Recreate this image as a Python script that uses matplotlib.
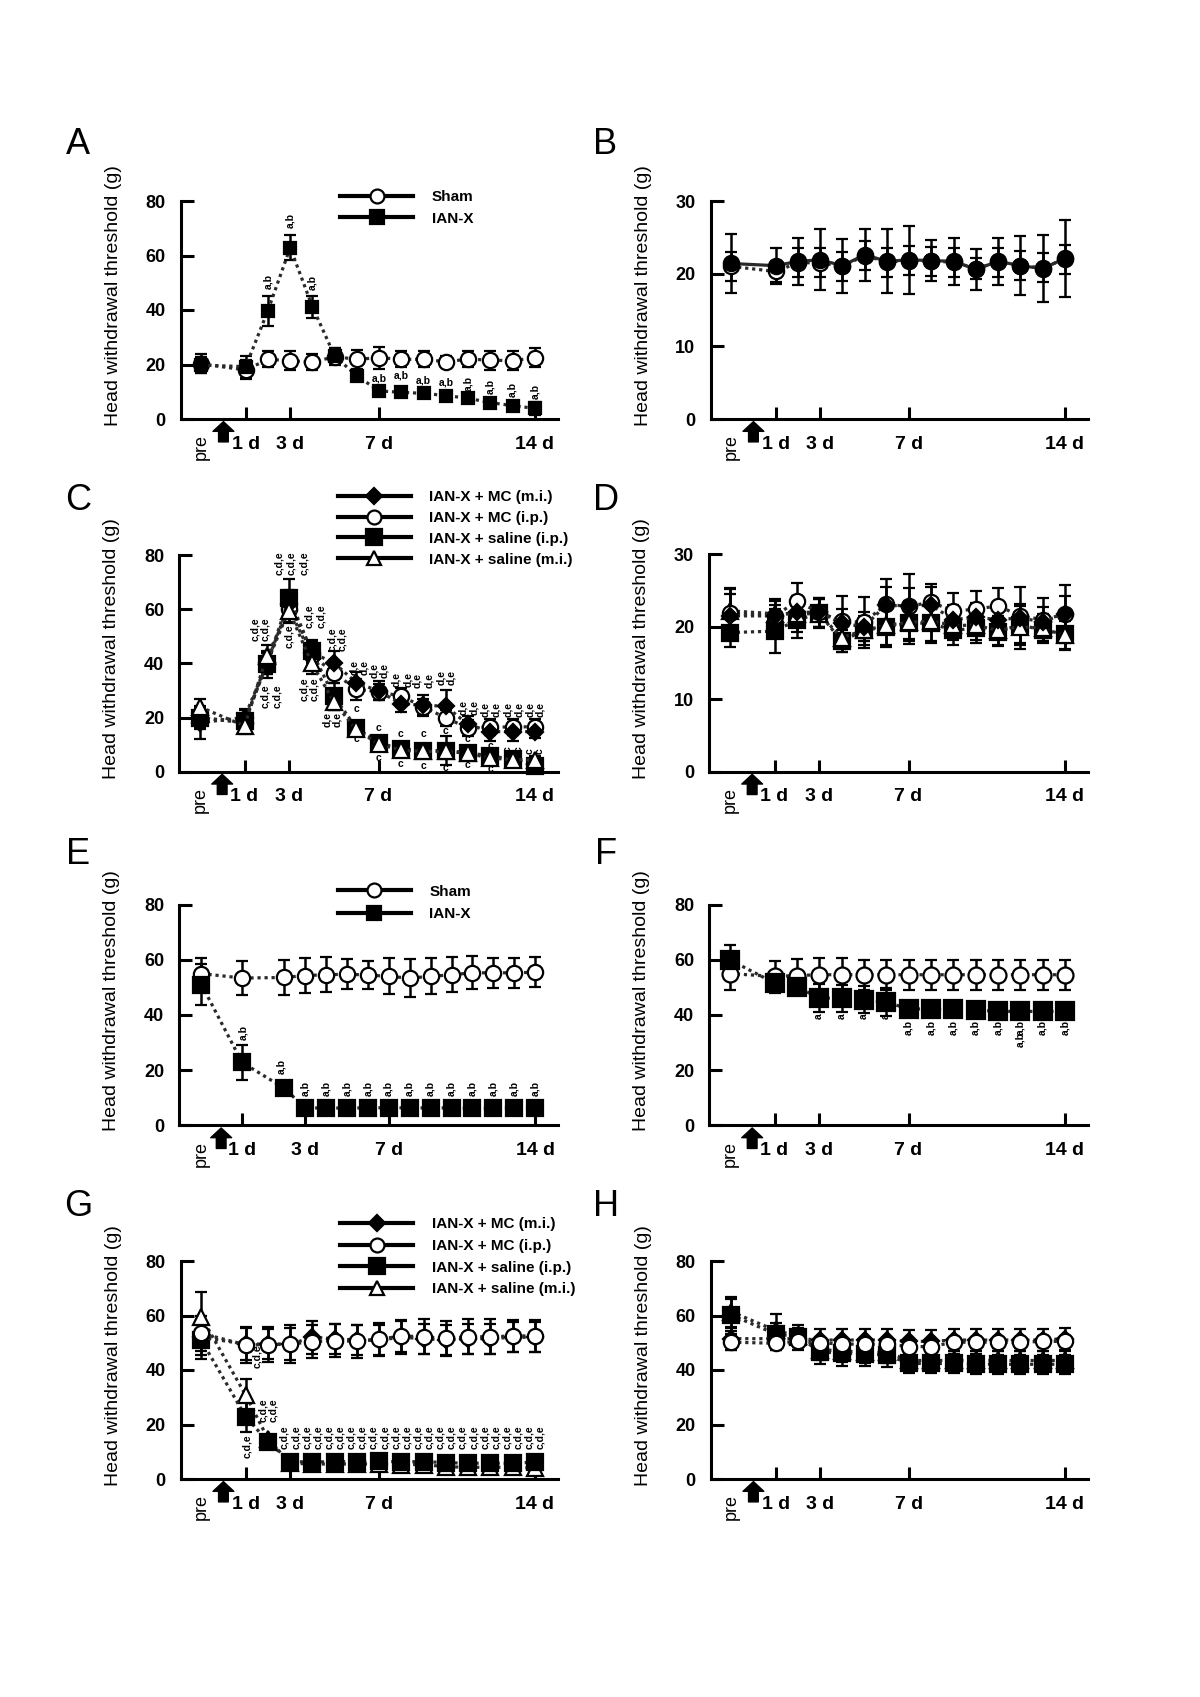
import numpy as np
import matplotlib.pyplot as plt
from matplotlib.lines import Line2D
from matplotlib.transforms import blended_transform_factory

plt.rcParams['font.family'] = ['Liberation Sans', 'DejaVu Sans']

# x positions (days); "pre" sits left of the surgery arrow
days = [-1, 1, 2, 3, 4, 5, 6, 7, 8, 9, 10, 11, 12, 13, 14]
days_e = [-1.94, 0, 2, 3, 4, 5, 6, 7, 8, 9, 10, 11, 12, 13, 14]
day_ticks = [1, 3, 7, 14]
day_ticks_e = [0, 3, 7, 14]
day_labels = ['1 d', '3 d', '7 d', '14 d']

# ---- A ----
sham_a = [20.2, 18.0, 21.9, 21.4, 20.8, 22.9, 21.9, 22.5, 21.9, 21.9, 21.0, 22.0, 21.6, 21.4, 22.5]
sham_a_err = [3.5, 3.5, 3.0, 3.5, 3.0, 3.0, 3.5, 4.0, 3.0, 3.0, 2.0, 3.0, 3.5, 3.5, 3.5]
ianx_a = [19.8, 19.2, 39.8, 62.9, 41.2, 23.1, 15.8, 10.3, 9.8, 9.4, 8.6, 7.6, 6.0, 4.9, 3.9]
ianx_a_err = [3.0, 4.0, 5.5, 4.7, 4.0, 3.0, 1.5, 1.5, 1.2, 1.2, 1.2, 1.2, 1.5, 1.5, 2.5]

# ---- B ----
sham_b = [21.0, 20.3, 21.5, 21.5, 21.0, 22.5, 21.6, 21.8, 21.7, 21.6, 20.7, 21.6, 21.1, 20.8, 22.0]
sham_b_err = [2.0, 1.5, 2.0, 2.0, 2.0, 2.0, 2.0, 2.0, 2.0, 2.0, 1.5, 2.0, 2.0, 2.0, 2.0]
ianx_b = [21.4, 21.1, 21.7, 21.9, 21.1, 22.6, 21.7, 21.9, 21.8, 21.7, 20.6, 21.7, 21.1, 20.7, 22.1]
ianx_b_err = [4.0, 2.5, 3.2, 4.2, 3.7, 3.6, 4.4, 4.7, 2.8, 3.2, 2.8, 3.2, 4.1, 4.6, 5.3]

# ---- C ----
mc_mi_c = [18.1, 20.0, 40.0, 62.0, 44.0, 40.2, 32.9, 29.8, 25.1, 24.5, 24.2, 17.5, 14.8, 14.8, 14.8]
mc_mi_c_err = [6.0, 3.0, 4.0, 5.0, 4.0, 4.5, 4.0, 3.5, 3.0, 4.0, 6.0, 3.0, 3.5, 3.5, 2.5]
mc_ip_c = [20.0, 18.0, 40.0, 60.0, 43.0, 36.6, 30.4, 29.5, 27.9, 24.0, 19.9, 16.2, 16.5, 16.5, 16.6]
mc_ip_c_err = [4.0, 3.0, 4.0, 5.0, 4.0, 4.0, 4.0, 3.0, 3.0, 3.0, 3.0, 3.0, 3.0, 3.0, 3.0]
sal_ip_c = [19.7, 18.7, 39.6, 64.2, 44.6, 27.9, 16.2, 10.7, 8.4, 7.8, 7.8, 7.0, 5.8, 4.6, 2.1]
sal_ip_c_err = [4.0, 4.0, 5.0, 7.0, 4.0, 5.0, 2.0, 2.0, 2.0, 2.0, 5.5, 2.0, 2.0, 1.5, 1.5]
sal_mi_c = [23.9, 16.9, 42.7, 59.3, 40.2, 25.8, 15.6, 10.2, 8.0, 7.5, 7.5, 6.8, 5.0, 4.5, 4.3]
sal_mi_c_err = [3.0, 3.0, 4.0, 4.0, 4.0, 3.0, 2.0, 2.0, 1.5, 1.5, 2.0, 1.5, 1.5, 1.5, 1.5]

# ---- D ----
mc_mi_d = [21.5, 21.5, 22.0, 22.0, 20.5, 20.0, 23.0, 22.8, 23.0, 21.0, 21.3, 21.0, 21.2, 20.7, 21.8]
mc_mi_d_err = [3.0, 1.5, 2.0, 2.0, 2.0, 2.0, 2.5, 2.5, 2.5, 2.0, 2.0, 2.0, 2.0, 2.0, 2.5]
mc_ip_d = [21.9, 21.5, 23.5, 22.0, 20.8, 20.6, 23.1, 22.8, 23.4, 22.2, 22.4, 22.9, 21.5, 21.0, 21.7]
mc_ip_d_err = [3.5, 2.0, 2.5, 2.0, 3.5, 3.5, 3.5, 4.5, 2.5, 2.5, 2.5, 2.5, 4.0, 3.0, 4.0]
sal_ip_d = [19.2, 19.4, 20.9, 21.9, 18.0, 19.5, 20.0, 20.5, 20.5, 19.5, 19.8, 19.3, 20.3, 19.5, 19.0]
sal_ip_d_err = [2.0, 3.0, 2.5, 2.0, 1.5, 1.5, 2.5, 2.5, 2.5, 2.0, 2.0, 2.0, 2.5, 1.5, 2.0]
sal_mi_d = [22.2, 21.8, 21.8, 21.8, 18.5, 19.5, 20.2, 20.6, 20.8, 20.2, 20.2, 19.5, 20.0, 19.8, 18.8]
sal_mi_d_err = [3.0, 2.0, 2.5, 2.0, 2.0, 2.0, 3.0, 3.0, 3.0, 2.0, 2.0, 2.0, 3.0, 2.0, 2.0]

# ---- E ----
sham_e = [55.0, 53.4, 53.6, 54.3, 54.6, 54.8, 54.5, 54.0, 53.4, 54.0, 54.6, 55.3, 55.3, 55.3, 55.5]
sham_e_err = [5.5, 6.3, 6.3, 6.3, 6.3, 5.5, 5.0, 6.5, 7.0, 6.5, 6.3, 6.0, 5.5, 5.5, 5.5]
ianx_e = [51.0, 22.8, 13.5, 6.4, 6.2, 6.3, 6.3, 6.4, 6.3, 6.3, 6.3, 6.1, 6.1, 6.2, 6.3]
ianx_e_err = [7.5, 6.5, 1.0, 1.0, 0.8, 0.8, 0.8, 0.8, 0.8, 0.8, 0.8, 0.8, 0.8, 0.8, 0.8]

# ---- F ----
sham_f = [55.0, 54.0, 54.3, 54.6, 54.6, 54.6, 54.6, 54.6, 54.6, 54.6, 54.6, 54.6, 54.6, 54.6, 54.6]
sham_f_err = [6.0, 5.5, 6.0, 6.0, 6.0, 5.5, 5.5, 5.5, 5.5, 5.5, 5.5, 5.5, 5.5, 5.5, 5.5]
ianx_f = [60.0, 51.6, 50.2, 46.2, 46.0, 45.6, 44.7, 42.2, 42.2, 42.0, 41.9, 41.3, 41.3, 41.3, 41.3]
ianx_f_err = [5.5, 3.5, 2.5, 5.0, 5.0, 5.0, 5.0, 2.5, 2.5, 2.5, 2.5, 2.5, 2.5, 2.5, 2.5]

# ---- G ----
mc_mi_g = [52.0, 49.5, 49.5, 49.5, 52.0, 51.5, 51.0, 51.0, 52.0, 51.5, 51.0, 51.5, 51.5, 52.0, 52.0]
mc_mi_g_err = [6.5, 6.0, 5.5, 6.0, 6.0, 5.5, 5.5, 5.5, 6.0, 5.5, 5.5, 5.5, 5.5, 5.5, 5.5]
mc_ip_g = [53.5, 49.2, 49.3, 49.5, 50.4, 50.8, 50.5, 51.3, 52.5, 52.2, 51.6, 52.2, 52.2, 52.5, 52.5]
mc_ip_g_err = [6.5, 6.6, 6.5, 7.0, 6.0, 6.0, 6.0, 6.0, 6.0, 6.5, 6.5, 6.5, 6.5, 6.0, 6.0]
sal_ip_g = [51.0, 22.9, 13.7, 6.4, 6.2, 6.4, 6.3, 6.5, 6.3, 6.4, 6.0, 5.8, 5.8, 5.8, 6.2]
sal_ip_g_err = [7.0, 5.5, 1.5, 1.0, 1.0, 1.0, 1.0, 1.0, 1.0, 1.0, 1.0, 1.0, 1.0, 1.0, 1.0]
sal_mi_g = [59.6, 30.8, 14.8, 5.8, 5.5, 5.5, 5.5, 5.5, 5.3, 5.3, 4.5, 4.3, 4.3, 4.3, 4.0]
sal_mi_g_err = [9.0, 6.0, 1.5, 1.0, 1.0, 1.0, 1.0, 1.0, 1.0, 1.0, 1.0, 1.0, 1.0, 1.0, 1.0]

# ---- H ----
mc_mi_h = [51.5, 51.5, 51.5, 51.0, 51.0, 51.0, 51.0, 50.5, 50.5, 51.0, 51.0, 51.0, 51.0, 51.0, 51.5]
mc_mi_h_err = [4.0, 4.0, 4.0, 4.0, 4.0, 4.0, 4.0, 4.0, 4.0, 4.0, 4.0, 4.0, 4.0, 4.0, 4.0]
mc_ip_h = [50.2, 49.8, 50.5, 50.0, 49.5, 49.5, 49.5, 48.6, 48.6, 50.2, 50.2, 50.2, 50.2, 50.5, 50.5]
mc_ip_h_err = [3.0, 2.5, 2.0, 2.0, 2.0, 2.0, 2.0, 2.0, 2.0, 2.0, 2.0, 2.0, 2.0, 2.0, 2.0]
sal_ip_h = [60.2, 53.2, 52.2, 46.7, 46.1, 45.9, 45.5, 42.4, 42.4, 42.4, 42.2, 42.1, 42.1, 42.1, 42.1]
sal_ip_h_err = [6.0, 4.0, 3.0, 4.5, 4.5, 4.5, 4.5, 3.5, 3.5, 3.5, 3.5, 3.5, 3.5, 3.5, 3.5]
sal_mi_h = [61.4, 54.5, 52.5, 47.5, 47.0, 46.5, 46.5, 43.5, 43.5, 43.5, 43.5, 43.5, 43.5, 43.5, 43.5]
sal_mi_h_err = [5.5, 6.0, 4.0, 4.0, 4.0, 4.0, 4.0, 3.5, 3.5, 3.5, 3.5, 3.5, 3.5, 3.5, 3.5]

# significance letters: (day, y, text, rotation)
notes_a = [(2, 50.4, 'a,b', 90), (3, 73, 'a,b', 90), (4, 50.2, 'a,b', 90),
           (7, 14.9, 'a,b', 0), (8, 15.8, 'a,b', 0), (9, 14.1, 'a,b', 0), (10, 13.5, 'a,b', 0),
           (11, 13.1, 'a,b', 90), (12, 11.9, 'a,b', 90), (13, 10.9, 'a,b', 90), (14, 10.0, 'a,b', 90)]
notes_c = [(1.49, 52.6, 'c,d,e', 90), (1.94, 52.6, 'c,d,e', 90),
           (1.94, 28.0, 'c,d,e', 90), (2.47, 28.0, 'c,d,e', 90),
           (2.54, 77, 'c,d,e', 90), (3.1, 77, 'c,d,e', 90), (3.66, 77, 'c,d,e', 90),
           (3.0, 50, 'c,d,e', 90),
           (3.89, 57.5, 'c,d,e', 90), (4.41, 57.5, 'c,d,e', 90),
           (3.66, 30.4, 'c,d,e', 90), (4.11, 30.4, 'c,d,e', 90),
           (4.91, 49, 'c,d,e', 90), (5.39, 49, 'c,d,e', 90),
           (4.71, 19.3, 'd,e', 90), (5.16, 19.3, 'd,e', 90),
           (5.91, 38.4, 'd,e', 90), (6.36, 38.4, 'd,e', 90),
           (6.81, 37.2, 'd,e', 90), (7.26, 37.2, 'd,e', 90),
           (7.78, 34.0, 'd,e', 90), (8.31, 34.0, 'd,e', 90),
           (8.75, 33.5, 'd,e', 90), (9.28, 33.5, 'd,e', 90),
           (9.8, 34.7, 'd,e', 90), (10.25, 34.7, 'd,e', 90),
           (10.8, 23.6, 'd,e', 90), (11.3, 23.6, 'd,e', 90),
           (11.79, 23.0, 'd,e', 90), (12.27, 23.0, 'd,e', 90),
           (12.8, 23.0, 'd,e', 90), (13.29, 23.0, 'd,e', 90),
           (13.77, 23.0, 'd,e', 90), (14.22, 23.0, 'd,e', 90),
           (6, 23, 'c', 0), (6, 12, 'c', 0), (7, 16.2, 'c', 0), (7, 5.2, 'c', 0),
           (8, 13.8, 'c', 0), (8, 3.0, 'c', 0), (9, 13.8, 'c', 0), (9, 2.0, 'c', 0),
           (10, 15.0, 'c', 0), (10, 1.5, 'c', 0), (11, 12.0, 'c', 0), (11, 2.3, 'c', 0),
           (12, 9.5, 'c', 0), (12, 0.9, 'c', 0), (12.8, 8.2, 'c', 90), (13.27, 8.2, 'c', 90),
           (13.77, 7.6, 'c', 90), (14.22, 7.6, 'c', 90)]
notes_e = [(0.05, 33.5, 'a,b', 90), (1.88, 21.4, 'a,b', 90)] + \
          [(d, 13.5, 'a,b', 90) for d in days_e[3:]]
notes_f = [(d, 39.5, 'a', 90) for d in days[3:7]] + \
          [(d, 35.3, 'a,b', 90) for d in days[7:]] + [(12, 31.0, 'a,b', 90)]
notes_g = [(1.05, 11.9, 'c,d,e', 90), (1.5, 44.9, 'c,d,e', 90),
           (1.8, 25.3, 'c,d,e', 90), (2.24, 25.3, 'c,d,e', 90)]
for d in days[3:]:
    notes_g += [(d - 0.25, 15.5, 'c,d,e', 90), (d + 0.25, 15.5, 'c,d,e', 90)]

styles = {
    'sham': dict(marker='o', mfc='white'),
    'ianx': dict(marker='s', mfc='black'),
    'ianx_b': dict(marker='o', mfc='black'),
    'mc_mi': dict(marker='D', mfc='black'),
    'mc_ip': dict(marker='o', mfc='white'),
    'sal_ip': dict(marker='s', mfc='black'),
    'sal_mi': dict(marker='^', mfc='white'),
}

W, H = 1200, 1697
fig = plt.figure(figsize=(12, 16.97), dpi=100)


def box(left, top, width, height):
    return [left / W, 1 - (top + height) / H, width / W, height / H]


def panel(rect, x, series, ymax, ystep, ticks, xlim, letter, notes=(), arrow_x=0):
    ax = fig.add_axes(box(*rect))
    for y, err, key, ms, ls in series:
        st = styles[key]
        cont = ax.errorbar(x, y, yerr=err, marker=st['marker'], ms=ms, mfc=st['mfc'],
                           mec='black', mew=1.6, color='#2a2a2a', ls=ls, lw=2.3,
                           ecolor='black', elinewidth=1.8, capsize=4.5, capthick=1.8)
        for art in cont.get_children():
            art.set_clip_on(False)
    ax.set_xlim(*xlim)
    ax.set_ylim(0, ymax)
    for s in ('top', 'right'):
        ax.spines[s].set_visible(False)
    for s in ('left', 'bottom'):
        ax.spines[s].set_linewidth(2.2)
    ax.set_yticks(np.arange(0, ymax + 1, ystep))
    ax.set_yticklabels([str(v) for v in np.arange(0, ymax + 1, ystep)],
                       fontweight='bold', fontsize=13)
    ax.set_xticks(ticks)
    ax.set_xticklabels(day_labels, fontweight='bold', fontsize=14)
    ax.tick_params(axis='both', direction='in', length=9, width=2.2)
    ax.tick_params(axis='y', pad=11)
    ax.tick_params(axis='x', pad=12)
    ax.set_ylabel('Head withdrawal threshold (g)', fontsize=14)
    ax.yaxis.set_label_coords(-0.156, 0.567)
    trans = blended_transform_factory(ax.transData, ax.transAxes)
    ax.text(x[0], -0.07, 'pre', rotation=90, ha='center', va='top',
            fontsize=13, transform=trans)
    ax.annotate('', xy=(arrow_x, -0.012), xycoords=trans,
                xytext=(arrow_x, -0.105), textcoords=trans,
                arrowprops=dict(facecolor='black', edgecolor='black', width=7,
                                headwidth=15, headlength=7, shrink=0),
                annotation_clip=False)
    for nx, ny, txt, rot in notes:
        ax.text(nx, ny, txt, rotation=rot, ha='center', va='center',
                fontsize=7.5, fontweight='bold', clip_on=False)
    fig.text(letter[0] / W, 1 - letter[1] / H, letter[2], fontsize=26,
             ha='center', va='center')
    return ax


def legend(ax, keys, labels, sizes, anchor, spacing):
    handles = [Line2D([], [], color='black', lw=3, marker=styles[k]['marker'], ms=m,
                      mfc=styles[k]['mfc'], mec='black', mew=1.6)
               for k, m in zip(keys, sizes)]
    ax.legend(handles, labels, loc='upper left', bbox_to_anchor=anchor, frameon=False,
              handlelength=4.8, handletextpad=1.2, labelspacing=spacing,
              borderpad=0, borderaxespad=0, prop={'weight': 'bold', 'size': 11})


dot = (0, (1, 1.2))
xl = (-1.92, 15.05)
xl_e = (-3.0, 15.1)

# A
axA = panel((180.7, 201, 377.6, 218), days,
            [(sham_a, sham_a_err, 'sham', 11, dot), (ianx_a, ianx_a_err, 'ianx', 8.5, dot)],
            80, 20, day_ticks, xl, (78, 144, 'A'), notes_a)
legend(axA, ['sham', 'ianx'], ['Sham', 'IAN-X'], [10, 10], (0.422, 1.05), 0.5)

# B
axB = panel((710.7, 201, 377.6, 218), days,
            [(sham_b, sham_b_err, 'sham', 11, dot), (ianx_b, ianx_b_err, 'ianx_b', 11, '-')],
            30, 10, day_ticks, xl, (605, 144, 'B'))

# C
four_keys = ['mc_mi', 'mc_ip', 'sal_ip', 'sal_mi']
four_labels = ['IAN-X + MC (m.i.)', 'IAN-X + MC (i.p.)', 'IAN-X + saline (i.p.)',
               'IAN-X + saline (m.i.)']
axC = panel((179.3, 555, 379, 216.7), days,
            [(mc_ip_c, mc_ip_c_err, 'mc_ip', 11, dot), (mc_mi_c, mc_mi_c_err, 'mc_mi', 8.5, dot),
             (sal_ip_c, sal_ip_c_err, 'sal_ip', 11, dot), (sal_mi_c, sal_mi_c_err, 'sal_mi', 11, dot)],
            80, 20, day_ticks, xl, (78, 500, 'C'), notes_c)
legend(axC, four_keys, four_labels, [8, 10, 11, 10], (0.418, 1.30), 0.45)

# D
axD = panel((709.3, 554.3, 379, 217.4), days,
            [(sal_ip_d, sal_ip_d_err, 'sal_ip', 11, dot), (sal_mi_d, sal_mi_d_err, 'sal_mi', 11, dot),
             (mc_ip_d, mc_ip_d_err, 'mc_ip', 11, dot), (mc_mi_d, mc_mi_d_err, 'mc_mi', 8.5, dot)],
            30, 10, day_ticks, xl, (606, 500, 'D'))

# E
axE = panel((179.3, 904.7, 379, 220.6), days_e,
            [(sham_e, sham_e_err, 'sham', 11, dot), (ianx_e, ianx_e_err, 'ianx', 11.5, dot)],
            80, 20, day_ticks_e, xl_e, (78, 855, 'E'), notes_e, arrow_x=-1)
legend(axE, ['sham', 'ianx'], ['Sham', 'IAN-X'], [10, 10], (0.418, 1.09), 0.55)

# F
axF = panel((709.3, 904.7, 379, 220.6), days,
            [(sham_f, sham_f_err, 'sham', 11.5, dot), (ianx_f, ianx_f_err, 'ianx', 12.5, dot)],
            80, 20, day_ticks, xl, (606, 855, 'F'), notes_f)

# G
axG = panel((180.7, 1261, 377.6, 218), days,
            [(sal_mi_g, sal_mi_g_err, 'sal_mi', 11, dot), (sal_ip_g, sal_ip_g_err, 'sal_ip', 12, dot),
             (mc_mi_g, mc_mi_g_err, 'mc_mi', 8.5, dot), (mc_ip_g, mc_ip_g_err, 'mc_ip', 11, dot)],
            80, 20, day_ticks, xl, (78, 1206, 'G'), notes_g)
legend(axG, four_keys, four_labels, [8, 10, 11, 10], (0.422, 1.20), 0.5)

# H
axH = panel((710.7, 1261, 377.6, 218), days,
            [(sal_mi_h, sal_mi_h_err, 'sal_mi', 11, dot), (sal_ip_h, sal_ip_h_err, 'sal_ip', 12, dot),
             (mc_mi_h, mc_mi_h_err, 'mc_mi', 8.5, dot), (mc_ip_h, mc_ip_h_err, 'mc_ip', 11, dot)],
            80, 20, day_ticks, xl, (606, 1206, 'H'))

fig.savefig('out.png', dpi=100, facecolor='white')
